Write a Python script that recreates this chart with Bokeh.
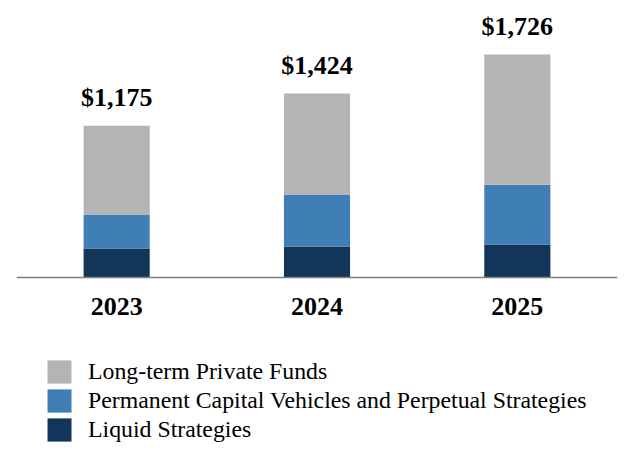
from bokeh.plotting import figure
from bokeh.models import ColumnDataSource, FactorRange, Range1d, Legend, LegendItem
from bokeh.core.properties import value
from bokeh.embed import file_html
from bokeh.resources import INLINE

years = ["2023", "2024", "2025"]
liquid = [224, 240, 255]
permanent = [263, 402, 464]
long_term = [688, 782, 1007]
series_names = ["Liquid Strategies", "Permanent Capital Vehicles and Perpetual Strategies", "Long-term Private Funds"]
series_colors = ["#12355A", "#3F7FB5", "#B4B4B4"]

totals = [a + b + c for a, b, c in zip(liquid, permanent, long_term)]
total_labels = ["${:,}".format(t) for t in totals]

src = ColumnDataSource(dict(years=years, liquid=liquid, permanent=permanent, long_term=long_term,
                            totals=totals, total_labels=total_labels))

p = figure(x_range=FactorRange(*years, range_padding=0), y_range=Range1d(-1354, 2082),
           width=624, height=452, min_border_left=16, min_border_right=7,
           min_border_top=8, min_border_bottom=0,
           output_backend="svg", toolbar_location=None, y_axis_location=None)

rs = p.vbar_stack(["liquid", "permanent", "long_term"], x="years", width=0.33, source=src,
                  color=series_colors, line_color=None)

p.text(x="years", y="totals", text="total_labels", source=src, text_align="center",
       text_baseline="alphabetic", y_offset=-28, text_font=value("Liberation Serif"),
       text_font_style="bold", text_font_size="26px", text_color="black")

p.xgrid.visible = False
p.ygrid.visible = False
p.outline_line_color = None
p.xaxis.fixed_location = 0
p.xaxis.axis_line_color = "#808080"
p.xaxis.axis_line_width = 1.5
p.xaxis.major_tick_line_color = None
p.xaxis.minor_tick_line_color = None
p.xaxis.major_label_standoff = 14
p.xaxis.major_label_text_font = "Liberation Serif"
p.xaxis.major_label_text_font_style = "bold"
p.xaxis.major_label_text_font_size = "26px"
p.xaxis.major_label_text_color = "black"

items = [LegendItem(label=series_names[i], renderers=[rs[i]]) for i in [2, 1, 0]]
legend = Legend(items=items, location=(28, 8), margin=0, padding=0, spacing=-1,
                glyph_width=30, glyph_height=29, label_standoff=14,
                label_text_font="Liberation Serif", label_text_font_size="23.8px",
                label_text_color="black", border_line_color=None, background_fill_alpha=0)
p.add_layout(legend, "center")

open("out.html", "w").write(file_html(p, INLINE))
